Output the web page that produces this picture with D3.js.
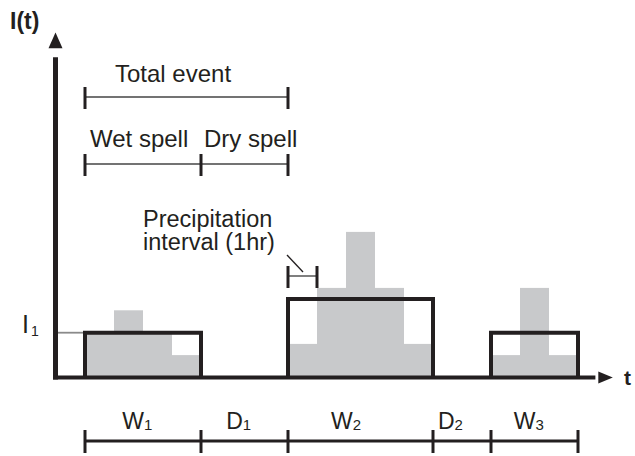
<!DOCTYPE html>
<html>
<head>
<meta charset="utf-8">
<script src="https://cdn.jsdelivr.net/npm/d3@7"></script>
<style>
  html, body { margin: 0; padding: 0; background: #fff; }
  svg { display: block; }
  text { font-family: "Liberation Sans", Arial, Helvetica, sans-serif; fill: #231f20; }
</style>
</head>
<body>
<script>
// ---- data ----
const hours = d3.range(0, 17);                       // hourly intervals (t, hours)
const intensity = [2, 3, 2, 1, 0, 0, 0, 1.5, 4, 6.5, 4, 1.5, 0, 0, 1, 4, 1];
const wetStart = [0, 7, 14];
const wetEnd = [4, 12, 17];
const wetMean = [2, 3.5, 2];
const segBounds = [0, 4, 7, 12, 14, 17];
const segNames = ["W", "D", "W", "D", "W"];
const segSubs = ["1", "1", "2", "2", "3"];
const segLabelT = [1.8, 5.3, 9.0, 12.6, 15.3];
const totalEvent = [0, 7];
const spellBounds = [0, 4, 7];
const intervalBounds = [7, 8];

// ---- layout ----
const W = 635, H = 456;
const ink = "#231f20", grey = "#c8c9cb";
const x = d3.scaleLinear().domain([0, 17]).range([85, 578]);
const y = d3.scaleLinear().domain([0, 15]).range([377.5, 41.5]);

const svg = d3.select("body").append("svg").attr("width", W).attr("height", H);

// gray hourly bars
svg.append("g").selectAll("rect").data(hours.filter(h => intensity[h] > 0)).join("rect")
  .attr("x", h => x(h)).attr("width", h => x(h + 1) - x(h))
  .attr("y", h => y(intensity[h])).attr("height", h => y(0) - y(intensity[h]))
  .attr("fill", grey);

// I1 reference line
svg.append("line").attr("x1", x(-1) + 2).attr("x2", x(0) - 2)
  .attr("y1", y(wetMean[0])).attr("y2", y(wetMean[0]))
  .attr("stroke", "#8a8a8a").attr("stroke-width", 1.8);

// wet spell mean boxes
svg.append("g").selectAll("path").data(d3.range(wetStart.length)).join("path")
  .attr("d", i => `M${x(wetStart[i])},${y(0)}V${y(wetMean[i])}H${x(wetEnd[i])}V${y(0)}`)
  .attr("fill", "none").attr("stroke", ink).attr("stroke-width", 4).attr("stroke-linejoin", "miter");

// axes
const x0 = x(-1) - 0.5, yBase = y(0);
svg.append("line").attr("x1", x0).attr("x2", x0).attr("y1", yBase + 2).attr("y2", y(14.3))
  .attr("stroke", ink).attr("stroke-width", 5);
svg.append("path").attr("d", `M${x0},${y(15.4)}L${x0 - 7},${y(14.7)}L${x0 + 7},${y(14.7)}Z`).attr("fill", ink);
svg.append("line").attr("x1", x0 - 2.5).attr("x2", x(17.6)).attr("y1", yBase).attr("y2", yBase)
  .attr("stroke", ink).attr("stroke-width", 4);
svg.append("path").attr("d", `M${x(18.2)},${yBase}L${x(17.7)},${yBase - 6}L${x(17.7)},${yBase + 6}Z`).attr("fill", ink);

svg.append("text").attr("x", 10).attr("y", 29).attr("font-size", 23).attr("font-weight", "bold").text("I(t)");
svg.append("text").attr("x", 624).attr("y", 385).attr("font-size", 21).attr("font-weight", "bold").text("t");

const i1 = svg.append("text").attr("x", 22).attr("y", y(wetMean[0])).attr("font-size", 25);
i1.append("tspan").text("I");
i1.append("tspan").attr("font-size", 14).attr("dx", 2).attr("dy", 3).text("1");

// bracket helper
function bracket(bounds, yy, tickTop, tickBot, lineW, tickW, color) {
  const g = svg.append("g");
  g.append("line").attr("x1", x(bounds[0])).attr("x2", x(bounds[bounds.length - 1]))
    .attr("y1", yy).attr("y2", yy).attr("stroke", color).attr("stroke-width", lineW);
  g.selectAll("line.t").data(bounds).join("line").attr("class", "t")
    .attr("x1", d => x(d)).attr("x2", d => x(d)).attr("y1", tickTop).attr("y2", tickBot)
    .attr("stroke", ink).attr("stroke-width", tickW);
}

bracket(totalEvent, 97, 87, 109, 1.5, 3, "#444");
svg.append("text").attr("x", 115).attr("y", 82).attr("font-size", 24).text("Total event");

bracket(spellBounds, 164, 154, 176, 1.5, 3, "#444");
svg.append("text").attr("x", 90).attr("y", 147).attr("font-size", 24).text("Wet spell");
svg.append("text").attr("x", 204).attr("y", 147).attr("font-size", 24).text("Dry spell");

// precipitation interval
bracket(intervalBounds, 276, 266, 288, 1.5, 3, "#555");
svg.append("line").attr("x1", x(7) - 1).attr("y1", 255).attr("x2", x(7) + 15).attr("y2", 272)
  .attr("stroke", ink).attr("stroke-width", 1.3);
svg.append("text").attr("x", 143).attr("y", 226.5).attr("font-size", 23.5).text("Precipitation");
svg.append("text").attr("x", 143).attr("y", 250).attr("font-size", 23.5).text("interval (1hr)");

// bottom segments
bracket(segBounds, 441, 430, 453, 3, 3, ink);
const lab = svg.append("g").selectAll("text").data(d3.range(segNames.length)).join("text")
  .attr("x", i => x(segLabelT[i])).attr("y", 429).attr("text-anchor", "middle").attr("font-size", 23);
lab.append("tspan").text(i => segNames[i]);
lab.append("tspan").attr("font-size", 15).attr("dy", 1).text(i => segSubs[i]);
</script>
</body>
</html>
